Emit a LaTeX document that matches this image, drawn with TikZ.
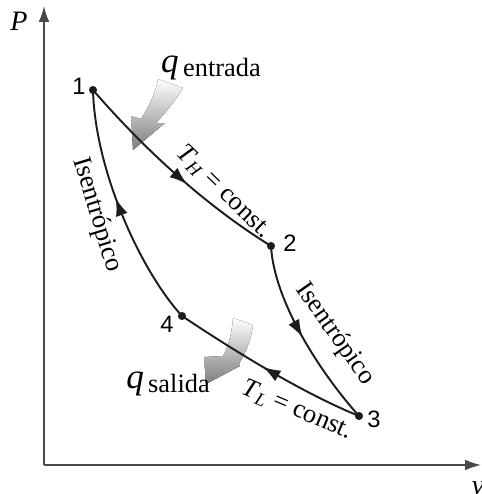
\documentclass[tikz,border=0pt]{standalone}
\usepackage{fontspec}
\setmainfont{Liberation Serif}
\newfontfamily\numfont{Liberation Sans}
\usetikzlibrary{arrows.meta,decorations.markings}
\definecolor{linec}{RGB}{28,28,28}
\definecolor{heatc}{RGB}{125,125,125}
\tikzset{
  axis/.style={linec!80,line width=0.8pt},
  cyc/.style={linec,line width=1.1pt},
  midarr/.style={postaction={decorate},decoration={markings,
    mark=at position #1 with {\arrow{Latex[length=10pt,width=7pt]}}}},
  state/.style={circle,fill=linec,inner sep=0pt,minimum size=4.6pt},
  numlbl/.style={font=\numfont\fontsize{13.5}{15}\selectfont,inner sep=0pt},
  txt/.style={font=\fontsize{15}{17}\selectfont,inner sep=0pt},
  heat/.style={top color=white,bottom color=heatc,draw=none}
}
\begin{document}
\begin{tikzpicture}[x=0.02cm,y=-0.02cm,>=Latex]
\useasboundingbox (0,0) rectangle (481,494);
\coordinate (orig) at (44,465);
\coordinate (ptop) at (44,6);
\coordinate (vend) at (481,465);
\draw[axis,-{Latex[length=9pt,width=6pt]}] (orig) -- (ptop);
\draw[axis,-{Latex[length=9pt,width=6pt]}] (orig) -- (vend);
\node[txt,font=\fontsize{16}{18}\selectfont\itshape] (plbl) at (19,21) {P};
\node[txt,font=\fontsize{16}{18}\selectfont\itshape] (vlbl) at (478,488) {v};
% heat arrows
\fill[heat] (158,79) .. controls (155,95) and (148,108) .. (141,119) -- (131,116)
  -- (133,150) -- (165,123) -- (156,123) .. controls (166,112) and (176,100) .. (183,88) -- cycle;
\fill[heat] (233,318) .. controls (232,332) and (229,345) .. (223,356) -- (204,357)
  -- (206,384) -- (240,366) -- (239,364) .. controls (246,352) and (251,340) .. (253,325) -- cycle;
% states
\node[state] (s1) at (93,90) {};
\node[state] (s2) at (271,246) {};
\node[state] (s3) at (359,416) {};
\node[state] (s4) at (182,316) {};
\draw[cyc,midarr=0.56] (s1.center) .. controls (145,150) and (205,205) .. (s2.center);
\draw[cyc,midarr=0.5] (s2.center) .. controls (274,300) and (318,370) .. (s3.center);
\draw[cyc,midarr=0.53] (s3.center) .. controls (300,392) and (230,348) .. (s4.center);
\draw[cyc,midarr=0.55] (s4.center) .. controls (140,270) and (95,170) .. (s1.center);
\node[numlbl] (n1) at (79,86) {1};
\node[numlbl] (n2) at (290,243) {2};
\node[numlbl] (n3) at (374,419) {3};
\node[numlbl] (n4) at (167,324) {4};
% process labels
\node[txt,rotate=-73] (isenl) at (97,215) {Isentrópico};
\node[txt,rotate=-55] (isenr) at (335,334) {Isentrópico};
\node[txt,rotate=-44] (thot) at (224,192) {\textit{T}\textsubscript{\textit{H}} = const.};
\node[txt,rotate=-23] (tcold) at (297,410) {\textit{T}\textsubscript{\textit{L}} = const.};
\node[txt] (qin) at (211,68) {{\fontsize{20}{22}\selectfont\itshape q}\,\raisebox{-2pt}{entrada}};
\node[txt] (qout) at (168,384) {{\fontsize{20}{22}\selectfont\itshape q}\,\raisebox{-2pt}{salida}};
\end{tikzpicture}
\end{document}
